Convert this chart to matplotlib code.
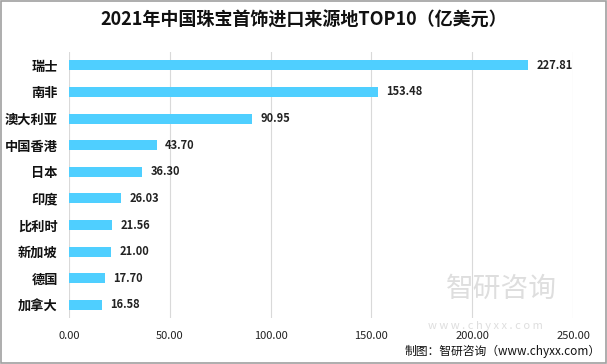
import matplotlib
matplotlib.use("Agg")
import matplotlib.pyplot as plt
from matplotlib.patches import Rectangle

plt.rcParams['font.family'] = ['Noto Sans CJK SC', 'DejaVu Sans']

categories = ["瑞士", "南非", "澳大利亚", "中国香港", "日本", "印度", "比利时", "新加坡", "德国", "加拿大"]
values = [227.81, 153.48, 90.95, 43.70, 36.30, 26.03, 21.56, 21.00, 17.70, 16.58]
xticks = [0, 50, 100, 150, 200, 250]
title = "2021年中国珠宝首饰进口来源地TOP10（亿美元）"
source = "制图：智研咨询（www.chyxx.com）"

fig = plt.figure(figsize=(6.07, 3.64), dpi=100)
ax = fig.add_axes([0.1137, 0.126, 0.8303, 0.731])

y = list(range(len(categories)))
ax.barh(y, values, height=0.38, color='#4FCFFF', zorder=3)
ax.set_ylim(len(categories) - 0.5, -0.5)
ax.set_xlim(0, 250)
ax.set_xticks(xticks)
ax.set_xticklabels([f"{t:.2f}" for t in xticks], fontsize=8, color='#222222')
ax.set_yticks(y)
ax.set_yticklabels(categories, fontsize=9.5, fontweight='bold', color='#111111')
ax.tick_params(axis='both', length=0)
ax.tick_params(axis='x', pad=9)
ax.tick_params(axis='y', pad=8)
for s in ax.spines.values():
    s.set_visible(False)
ax.grid(axis='x', color='#d9d9d9', linewidth=0.8, zorder=0)

for yi, v in zip(y, values):
    ax.text(v + 4, yi, f"{v:.2f}", va='center', ha='left', fontsize=8,
            fontweight='bold', color='#222222', zorder=4)

fig.text(0.5, 0.945, title, ha='center', va='center', fontsize=13, fontweight='bold', color='#111111')

# watermark
fig.text(0.735, 0.205, "智研咨询", ha='left', va='center', fontsize=20, color='#c8c8c8', alpha=0.6)
fig.text(0.705, 0.105, "w w w . c h y x x . c o m", ha='left', va='center', fontsize=8, color='#c8c8c8', alpha=0.6)
fig.text(0.99, 0.035, source, ha='right', va='center', fontsize=8.5, color='#111111')

fig.patches.append(Rectangle((0.0015, 0.0025), 0.997, 0.995, transform=fig.transFigure,
                             fill=False, edgecolor='#a0a0a0', linewidth=1.2))

fig.savefig("out.png", dpi=100)
